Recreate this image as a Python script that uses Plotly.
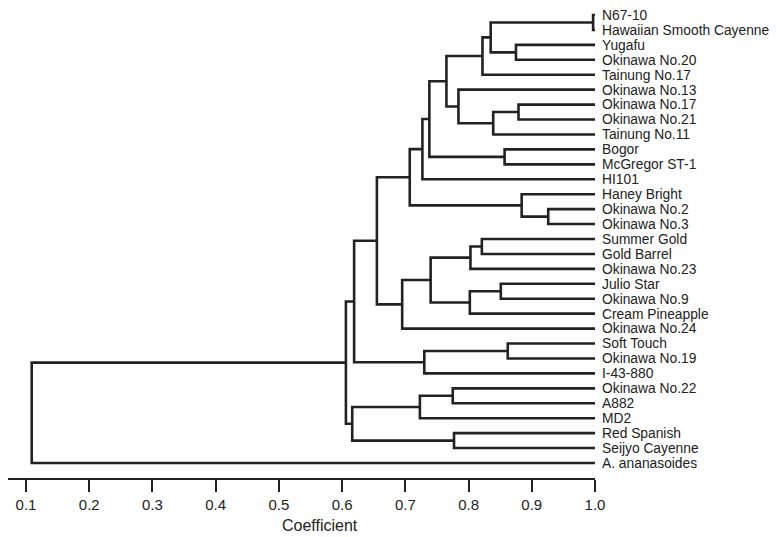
import plotly.graph_objects as go

# Leaf order (top to bottom)
leaves = [
    "N67-10", "Hawaiian Smooth Cayenne", "Yugafu", "Okinawa No.20", "Tainung No.17",
    "Okinawa No.13", "Okinawa No.17", "Okinawa No.21", "Tainung No.11", "Bogor",
    "McGregor ST-1", "HI101", "Haney Bright", "Okinawa No.2", "Okinawa No.3",
    "Summer Gold", "Gold Barrel", "Okinawa No.23", "Julio Star", "Okinawa No.9",
    "Cream Pineapple", "Okinawa No.24", "Soft Touch", "Okinawa No.19", "I-43-880",
    "Okinawa No.22", "A882", "MD2", "Red Spanish", "Seijyo Cayenne", "A. ananasoides",
]

# Merges: cluster k is referred to as "C<k>"
merge_left = [
    "N67-10", "Yugafu", "C0", "C2", "Okinawa No.17", "C4", "Okinawa No.13", "C3",
    "Bogor", "C7", "C9", "Okinawa No.2", "Haney Bright", "C10", "Summer Gold", "C14",
    "Julio Star", "C16", "C15", "C18", "C13", "Soft Touch", "C21", "C20",
    "Okinawa No.22", "C24", "Red Spanish", "C25", "C23", "C28",
]
merge_right = [
    "Hawaiian Smooth Cayenne", "Okinawa No.20", "C1", "Tainung No.17", "Okinawa No.21",
    "Tainung No.11", "C5", "C6", "McGregor ST-1", "C8", "HI101", "Okinawa No.3", "C11",
    "C12", "Gold Barrel", "Okinawa No.23", "Okinawa No.9", "Cream Pineapple", "C17",
    "Okinawa No.24", "C19", "Okinawa No.19", "I-43-880", "C22", "A882", "MD2",
    "Seijyo Cayenne", "C26", "C27", "A. ananasoides",
]
merge_height = [
    0.997, 0.875, 0.835, 0.822, 0.879, 0.839, 0.784, 0.765, 0.857, 0.738,
    0.727, 0.926, 0.884, 0.707, 0.821, 0.803, 0.851, 0.802, 0.740, 0.695,
    0.655, 0.862, 0.730, 0.619, 0.775, 0.723, 0.777, 0.616, 0.606, 0.109,
]

tick_vals = [0.1, 0.2, 0.3, 0.4, 0.5, 0.6, 0.7, 0.8, 0.9, 1.0]
tick_text = ["0.1", "0.2", "0.3", "0.4", "0.5", "0.6", "0.7", "0.8", "0.9", "1.0"]

# positions of nodes
pos = {name: (1.0, i) for i, name in enumerate(leaves)}
xs, ys = [], []
for k, (a, b, h) in enumerate(zip(merge_left, merge_right, merge_height)):
    xa, ya = pos[a]
    xb, yb = pos[b]
    xs += [xa, h, h, xb, None]
    ys += [ya, ya, yb, yb, None]
    pos["C%d" % k] = (h, (ya + yb) / 2)

INK = "#222222"
FONT = "Liberation Sans, Arial, sans-serif"

fig = go.Figure()
fig.add_trace(go.Scatter(
    x=xs, y=ys, mode="lines",
    line=dict(color=INK, width=2.6),
    hoverinfo="skip", showlegend=False,
))

fig.update_layout(
    width=769, height=529,
    margin=dict(l=0, r=182, t=0, b=59, autoexpand=False),
    paper_bgcolor="white", plot_bgcolor="white",
    font=dict(family=FONT, color=INK, size=14),
    xaxis=dict(
        range=[0.0715, 1.0], tickmode="array", tickvals=tick_vals, ticktext=tick_text,
        ticks="outside", ticklen=12, tickwidth=2, tickcolor=INK,
        showline=True, linewidth=2, linecolor=INK, automargin=False,
        showgrid=False, zeroline=False, tickfont=dict(size=15),
    ),
    yaxis=dict(
        range=[31.0045, -0.469], tickmode="array", tickvals=list(range(len(leaves))),
        ticktext=leaves, side="right", ticks="", ticklabelstandoff=6, automargin=False,
        ticklabeloverflow="allow",
        showline=False, showgrid=False, zeroline=False, tickfont=dict(size=13.8),
    ),
    annotations=[dict(
        text="Coefficient", x=0.565, xref="x", y=-0.1, yref="paper",
        xanchor="center", yanchor="middle", showarrow=False,
        font=dict(size=16, color=INK, family=FONT),
    )],
)

fig.write_html("out.html")
